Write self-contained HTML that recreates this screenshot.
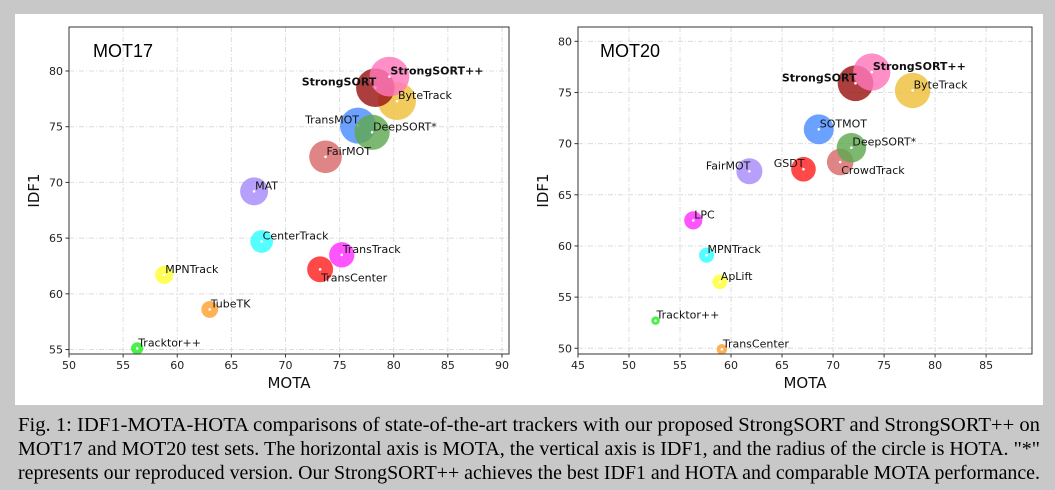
<!DOCTYPE html>
<html><head><meta charset="utf-8">
<style>
html,body{margin:0;padding:0;}
body{width:1055px;height:490px;background:#c8c8c8;position:relative;overflow:hidden;font-family:"Liberation Sans",sans-serif;}
#panel{position:absolute;left:15px;top:14px;width:1028px;height:391px;background:#fff;}
svg{position:absolute;left:0;top:0;}
.cap{position:absolute;left:18px;font-family:"Liberation Serif",serif;font-size:20px;color:#000;white-space:nowrap;transform-origin:0 0;}
</style></head>
<body>
<div id="panel"></div>
<svg id="chart" width="1055" height="490"></svg>
<div class="cap" style="top:414px">Fig. 1: IDF1-MOTA-HOTA comparisons of state-of-the-art trackers with our proposed StrongSORT and StrongSORT++ on</div>
<div class="cap" style="top:438px">MOT17 and MOT20 test sets. The horizontal axis is MOTA, the vertical axis is IDF1, and the radius of the circle is HOTA. "*"</div>
<div class="cap" style="top:462px">represents our reproduced version. Our StrongSORT++ achieves the best IDF1 and HOTA and comparable MOTA performance.</div>
<script>
// MOT17 data
const m17Names = ["Tracktor++","TubeTK","MPNTrack","TransCenter","TransTrack","CenterTrack","MAT","FairMOT","TransMOT","DeepSORT*","ByteTrack","StrongSORT","StrongSORT++"];
const m17MOTA = [56.3,63.0,58.8,73.2,75.2,67.8,67.1,73.7,76.7,78.0,80.3,78.3,79.6];
const m17IDF1 = [55.1,58.6,61.7,62.2,63.5,64.7,69.2,72.3,75.1,74.5,77.3,78.5,79.5];
const m17HOTA = [44.8,48.0,49.0,54.5,54.1,52.2,56.0,59.3,61.7,61.2,63.1,63.5,64.4];
const m17XTicks = [50,55,60,65,70,75,80,85,90];
const m17YTicks = [55,60,65,70,75,80];
// MOT20 data
const m20Names = ["Tracktor++","TransCenter","ApLift","MPNTrack","LPC","FairMOT","GSDT","CrowdTrack","SOTMOT","DeepSORT*","ByteTrack","StrongSORT","StrongSORT++"];
const m20MOTA = [52.6,59.1,58.9,57.6,56.3,61.8,67.1,70.7,68.6,71.8,77.8,72.2,73.8];
const m20IDF1 = [52.7,49.9,56.5,59.1,62.5,67.3,67.5,68.2,71.4,69.6,75.2,75.9,77.0];
const m20HOTA = [42.1,43.5,46.6,46.8,49.0,54.6,53.6,55.0,57.4,57.1,61.3,61.5,62.6];
const m20XTicks = [45,50,55,60,65,70,75,80,85];
const m20YTicks = [50,55,60,65,70,75,80];

const colors17 = ["#22ee22","#ffa030","#ffff30","#ff2020","#ff30ff","#30ffff","#a78bfa","#d96a6a","#4a8cff","#5fa84f","#eebf3a","#9b1313","#ff77bb"];
const colors20 = ["#22ee22","#ffa030","#ffff30","#30ffff","#ff30ff","#a78bfa","#ff2020","#d96a6a","#4a8cff","#5fa84f","#eebf3a","#9b1313","#ff77bb"];
const place17 = ["r","r","r","b","r","r","r","r","l","r","r","l","r"];
const place20 = ["r","r","r","r","r","l","l","b","r","r","r","l","r"];

const NS="http://www.w3.org/2000/svg";
const svg=document.getElementById('chart');
function mk(tag,attrs,parent){const e=document.createElementNS(NS,tag);for(const k in attrs)e.setAttribute(k,attrs[k]);(parent||svg).appendChild(e);return e;}

function drawChart(cfg){
  const g=mk('g',{});
  
  
  const X=v=>cfg.x0+(v-cfg.xmin)/(cfg.xmax-cfg.xmin)*(cfg.x1-cfg.x0);
  const Y=v=>cfg.y1-(v-cfg.ymin)/(cfg.ymax-cfg.ymin)*(cfg.y1-cfg.y0);
  cfg.xt.forEach(t=>{const l=mk('line',{x1:X(t),x2:X(t),y1:cfg.y0,y2:cfg.y1,stroke:'#dcdcdc','stroke-dasharray':'5,2,1,2','stroke-width':1},g);
    
    });
  cfg.yt.forEach(t=>{const l=mk('line',{x1:cfg.x0,x2:cfg.x1,y1:Y(t),y2:Y(t),stroke:'#dcdcdc','stroke-dasharray':'5,2,1,2','stroke-width':1},g);
    
    });
  const R=h=>Math.max(4,0.7*(h-36));
  cfg.names.forEach((n,i)=>{
    const cx=X(cfg.mota[i]),cy=Y(cfg.idf1[i]);
    const c=mk('circle',{cx:cx,cy:cy,r:R(cfg.hota[i]),fill:cfg.colors[i],'fill-opacity':0.82},g);
    
    
    mk('circle',{cx:cx,cy:cy,r:1.3,fill:'#fff'},g);
  });
  cfg.names.forEach((n,i)=>{
    const cx=X(cfg.mota[i]),cy=Y(cfg.idf1[i]);
    const p=cfg.place[i];
    const bold=n.startsWith('StrongSORT');
    const t=mk('text',{x:cx+1,y:p==='b'?cy+12:cy-2,'text-anchor':p==='l'?'end':'start','font-family':'"DejaVu Sans",sans-serif','font-size':11,'font-weight':bold?'bold':'normal',fill:'#111'},g);
    t.textContent=n;
    
    
  });
  const fr=mk('rect',{x:cfg.x0,y:cfg.y0,width:cfg.x1-cfg.x0,height:cfg.y1-cfg.y0,fill:'none',stroke:'#333','stroke-width':1},g);
  
  
  cfg.xt.forEach(t=>{mk('line',{x1:X(t),x2:X(t),y1:cfg.y1,y2:cfg.y1+3.5,stroke:'#333'},g);
    const tx=mk('text',{x:X(t),y:cfg.y1+15,'text-anchor':'middle','font-family':'"DejaVu Sans",sans-serif','font-size':11,fill:'#222'},g);
    tx.textContent=t;
    
    });
  cfg.yt.forEach(t=>{mk('line',{x1:cfg.x0-3.5,x2:cfg.x0,y1:Y(t),y2:Y(t),stroke:'#333'},g);
    const tx=mk('text',{x:cfg.x0-6,y:Y(t)+4,'text-anchor':'end','font-family':'"DejaVu Sans",sans-serif','font-size':11,fill:'#222'},g);
    tx.textContent=t;
    
    });
  const xl=mk('text',{x:(cfg.x0+cfg.x1)/2,y:cfg.y1+34,'text-anchor':'middle','font-family':'"DejaVu Sans",sans-serif','font-size':15,fill:'#111'},g);
  xl.textContent='MOTA';
  
  
  const yx=cfg.x0-30, yy=(cfg.y0+cfg.y1)/2;
  const yl=mk('text',{x:yx,y:yy,'text-anchor':'middle','font-family':'"DejaVu Sans",sans-serif','font-size':15,fill:'#111',transform:`rotate(-90 ${yx} ${yy})`},g);
  yl.textContent='IDF1';
  
  
  const tt=mk('text',{x:cfg.titleX,y:57,'font-family':'"Liberation Sans",sans-serif','font-size':18,fill:'#000'},g);
  tt.textContent=cfg.title;
  
  
}

drawChart({id:'mot17',title:'MOT17',titleX:93,x0:69,x1:509,y0:27,y1:354,xmin:50,xmax:90.65,ymin:54.6,ymax:83.95,
  names:m17Names,mota:m17MOTA,idf1:m17IDF1,hota:m17HOTA,colors:colors17,place:place17,xt:m17XTicks,yt:m17YTicks});
drawChart({id:'mot20',title:'MOT20',titleX:600,x0:578,x1:1032,y0:27,y1:354,xmin:45,xmax:89.5,ymin:49.44,ymax:81.4,
  names:m20Names,mota:m20MOTA,idf1:m20IDF1,hota:m20HOTA,colors:colors20,place:place20,xt:m20XTicks,yt:m20YTicks});

document.querySelectorAll('.cap').forEach(d=>{
  const w=d.getBoundingClientRect().width;
  d.style.transform='scaleX('+(1022/w)+')';
});
</script>
</body></html>
